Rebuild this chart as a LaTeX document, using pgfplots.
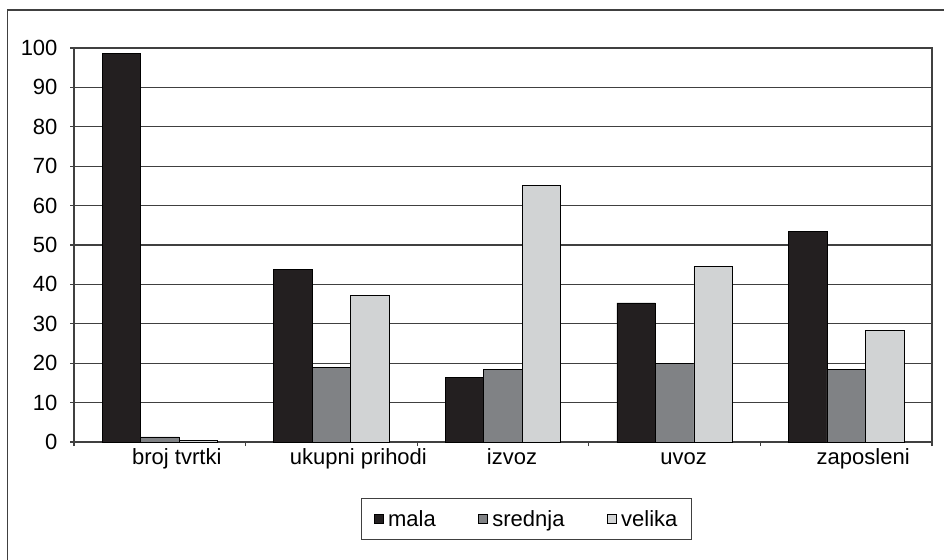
\documentclass[border=0pt]{standalone}
\usepackage{pgfplots}
\pgfplotsset{compat=1.18}
\usepackage{fontspec}
\setmainfont{Liberation Sans}
\definecolor{mala}{HTML}{231F20}
\definecolor{srednja}{HTML}{808285}
\definecolor{velika}{HTML}{D1D3D4}
\definecolor{frame}{HTML}{404040}
\begin{document}
\begin{tikzpicture}
\useasboundingbox (0,0) rectangle (944pt,-559pt);
\draw[line width=1.2pt, frame] (7.5pt,-10pt) rectangle (990pt,-600pt);
\begin{axis}[
    at={(74pt,-442pt)}, anchor=south west,
    width=858pt, height=394pt, scale only axis,
    /pgf/number format/assume math mode=true,
    xmin=0, xmax=5, ymin=0, ymax=100,
    ytick={0,10,...,100},
    xtick={0,1,...,5},
    xticklabels={,,,,,},
    extra x ticks={0.5,1.5,2.5,3.5,4.5},
    extra x tick labels={\hspace*{34pt}broj tvrtki,\hspace*{54pt}ukupni prihodi,\hspace*{18pt}izvoz,\hspace*{18pt}uvoz,\hspace*{34pt}zaposleni},
    extra x tick style={xmajorgrids=false, major tick length=0pt,
        xticklabel style={text height=16pt, text depth=4pt, yshift=-3pt}},
    ymajorgrids,
    grid style={frame, line width=1.1pt},
    axis line style={frame, line width=1.1pt},
    tick style={frame, line width=1.1pt},
    tick align=outside, major tick length=4pt,
    tick pos=left,
    ticklabel style={font=\fontsize{22}{26}\selectfont},
    yticklabel style={xshift=-9pt},
    ybar=0pt, bar width=38.5pt,
    legend style={at={(0.3345,-0.142)}, anchor=north west,
        legend columns=3, draw=frame, line width=1pt,
        font=\fontsize{22}{26}\selectfont,
        inner xsep=12pt, inner ysep=10pt,
        /tikz/every odd column/.append style={column sep=3pt},
        /tikz/every even column/.append style={column sep=40pt}},
    legend image code/.code={\draw[#1, draw=black, line width=0.6pt] (0pt,-4.5pt) rectangle (9pt,4.5pt);},
]
\addplot[fill=mala, draw=black, line width=0.7pt] coordinates {
    (0.5,98.6) (1.5,43.8) (2.5,16.3) (3.5,35.3) (4.5,53.4)};
\addplot[fill=srednja, draw=black, line width=0.7pt] coordinates {
    (0.5,1.3) (1.5,19.0) (2.5,18.4) (3.5,20.0) (4.5,18.4)};
\addplot[fill=velika, draw=black, line width=0.7pt] coordinates {
    (0.5,0.35) (1.5,37.3) (2.5,65.1) (3.5,44.6) (4.5,28.3)};
\legend{mala,srednja,velika}
\end{axis}
\end{tikzpicture}
\end{document}
